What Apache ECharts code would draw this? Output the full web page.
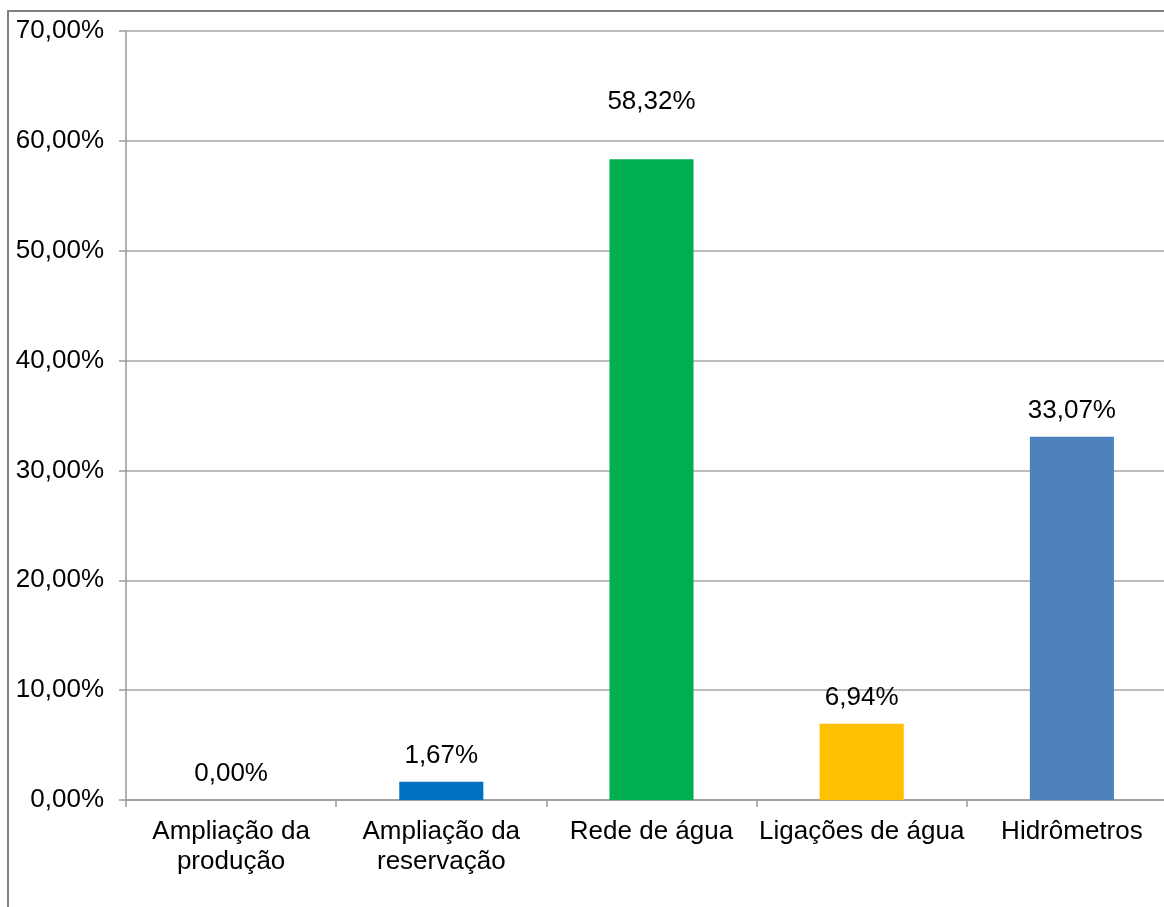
<!DOCTYPE html>
<html>
<head>
<meta charset="utf-8">
<script src="https://cdn.jsdelivr.net/npm/echarts@6/dist/echarts.min.js"></script>
<style>
html,body{margin:0;padding:0;background:#fff;overflow:hidden;width:1164px;height:907px;}
#chart{width:1177px;height:907px;}
</style>
</head>
<body>
<div id="chart"></div>
<script>
const categories = ['Ampliação da\nprodução', 'Ampliação da\nreservação', 'Rede de água', 'Ligações de água', 'Hidrômetros'];
const values = [0.00, 1.67, 58.32, 6.94, 33.07];
const yTicks = [0, 10, 20, 30, 40, 50, 60, 70];

const barColors = ['#0070C0', '#0070C0', '#00B050', '#FFC000', '#4F81BD'];
const fontFamily = '"Liberation Sans", Arial, sans-serif';
const fmt = v => v.toFixed(2).replace('.', ',') + '%';

const chart = echarts.init(document.getElementById('chart'));
chart.setOption({
  animation: false,
  backgroundColor: '#ffffff',
  graphic: [{
    type: 'rect',
    shape: { x: 8, y: 11, width: 1300, height: 1000 },
    style: { fill: 'none', stroke: '#808080', lineWidth: 2 },
    silent: true
  }],
  grid: { left: 126, top: 31, bottom: 107, right: 0, containLabel: false },
  xAxis: {
    type: 'category',
    data: categories,
    axisLine: { lineStyle: { color: '#9a9a9a', width: 1.5 } },
    axisTick: { show: true, length: 7, alignWithLabel: false, lineStyle: { color: '#9a9a9a', width: 1.5 } },
    axisLabel: {
      color: '#000', fontSize: 26, fontFamily: fontFamily, margin: 17, lineHeight: 30, interval: 0
    }
  },
  yAxis: {
    type: 'value',
    min: yTicks[0],
    max: yTicks[yTicks.length - 1],
    interval: 10,
    axisLine: { show: true, lineStyle: { color: '#9a9a9a', width: 1.5 } },
    axisTick: { show: true, length: 7, lineStyle: { color: '#9a9a9a', width: 1.5 } },
    splitLine: { show: true, lineStyle: { color: '#a6a6a6', width: 1.5 } },
    axisLabel: {
      color: '#000', fontSize: 26, fontFamily: fontFamily, margin: 22,
      formatter: v => fmt(v)
    }
  },
  series: [{
    type: 'bar',
    barWidth: '40%',
    data: values.map((v, i) => ({
      value: v,
      itemStyle: { color: barColors[i] },
      label: i === 2 ? { distance: 44 } : undefined
    })),
    label: {
      show: true,
      position: 'top',
      distance: 13,
      color: '#000',
      fontSize: 26,
      fontFamily: fontFamily,
      formatter: p => fmt(p.value)
    }
  }]
});
</script>
</body>
</html>
